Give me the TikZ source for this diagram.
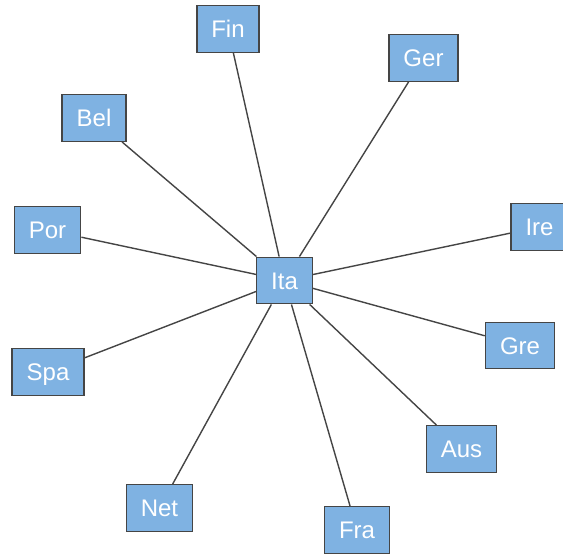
\documentclass[tikz,border=0pt]{standalone}
\usepackage{fontspec}
\setmainfont{Liberation Sans}
\definecolor{boxblue}{HTML}{7FB2E2}
\definecolor{edgegray}{HTML}{454545}

\begin{document}
\begin{tikzpicture}[x=1pt, y=-1pt,
  country/.style = {shape=rectangle, draw=edgegray, line width=1.4pt,
    fill=boxblue, text=white, font=\fontsize{24}{28}\selectfont,
    inner xsep=14.5pt, minimum height=46.5pt,
    text height=17.2pt, text depth=0pt},
  link/.style = {draw=edgegray, line width=1.4pt}]
  \clip (0,0) rectangle (563,556);
  \fill[white] (0,0) rectangle (563,556);

  \node[country] (ita) at (284.5,280.5) {Ita};
  \node[country] (fin) at (228,29) {Fin};
  \node[country] (ger) at (423.5,58) {Ger};
  \node[country] (bel) at (94,118) {Bel};
  \node[country] (por) at (47.5,230) {Por};
  \node[country] (ire) at (539.5,227) {Ire};
  \node[country] (gre) at (520,345.5) {Gre};
  \node[country] (spa) at (48,372) {Spa};
  \node[country] (aus) at (461.5,449) {Aus};
  \node[country] (net) at (159.5,508) {Net};
  \node[country] (fra) at (357,530) {Fra};

  \draw[link] (ita) -- (fin);
  \draw[link] (ita) -- (ger);
  \draw[link] (ita) -- (bel);
  \draw[link] (ita) -- (por);
  \draw[link] (ita) -- (ire);
  \draw[link] (ita) -- (gre);
  \draw[link] (ita) -- (spa);
  \draw[link] (ita) -- (aus);
  \draw[link] (ita) -- (net);
  \draw[link] (ita) -- (fra);
\end{tikzpicture}
\end{document}
